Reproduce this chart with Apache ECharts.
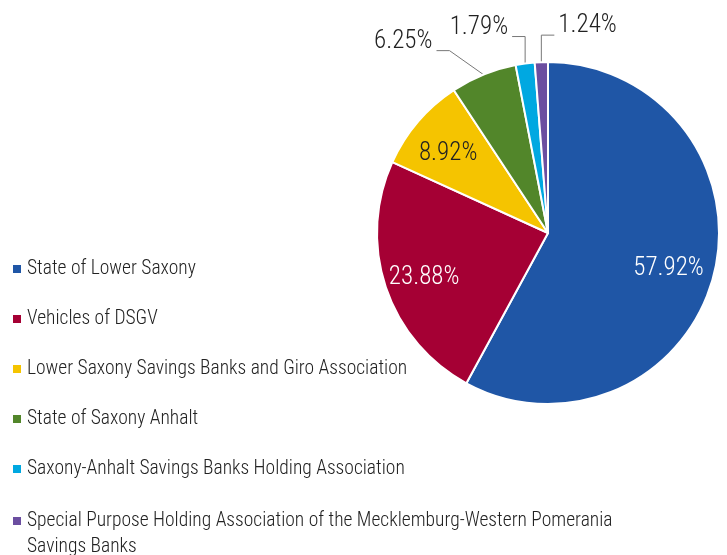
<!DOCTYPE html>
<html>
<head>
<meta charset="utf-8">
<script src="https://cdn.jsdelivr.net/npm/echarts@6/dist/echarts.min.js"></script>
<style>
  html, body { margin: 0; padding: 0; background: #fff; }
  #chart { width: 727px; height: 555px; }
</style>
</head>
<body>
<div id="chart"></div>
<script>
// shareholders, in pie order (clockwise from 12 o'clock)
const names = [
  'State of Lower Saxony',
  'Vehicles of DSGV',
  'Lower Saxony Savings Banks and Giro Association',
  'State of Saxony Anhalt',
  'Saxony-Anhalt Savings Banks Holding Association',
  'Special Purpose Holding Association of the Mecklemburg-Western Pomerania Savings Banks'
]
const shares = [57.92, 23.88, 8.92, 6.25, 1.79, 1.24]
const colors = ['#1f56a6', '#a50034', '#f5c400', '#52862a', '#00a8e1', '#6b4ea0']

const FONT = '"Roboto Condensed", "Open Sans", sans-serif'
const CX = 548
const CY = 233

let chart = echarts.init(document.getElementById('chart'))

let pieData = names.map(function (n, i) {
  let inside = shares[i] > 8
  return {
    name: n,
    value: shares[i],
    itemStyle: { color: colors[i] },
    label: {
      position: inside ? 'inside' : 'outside',
      color: (inside && i < 2) ? '#fff' : '#222'
    },
    labelLine: { show: !inside }
  }
})

function legendItem (n) {
  return { name: n, icon: 'rect' }
}

let legendText = { fontFamily: FONT, fontWeight: 300, fontSize: 19.5, color: '#222' }

let option = {
  animation: false,
  legend: [
    {
      orient: 'vertical',
      left: 6,
      top: 254,
      itemWidth: 10,
      itemHeight: 10,
      itemGap: 30,
      selectedMode: false,
      data: names.slice(0, 5).map(legendItem),
      textStyle: Object.assign({ lineHeight: 20 }, legendText)
    },
    {
      orient: 'vertical',
      left: 6,
      top: 477,
      itemWidth: 10,
      itemHeight: 10,
      selectedMode: false,
      data: names.slice(5).map(legendItem),
      formatter: function (n) {
        // wrap like the original; the empty first line keeps line one level with the swatch
        return '\n' + n.replace(' Savings Banks', '\nSavings Banks')
      },
      textStyle: Object.assign({ lineHeight: 26 }, legendText)
    }
  ],
  series: [{
    type: 'pie',
    center: [CX, CY],
    radius: 171,
    startAngle: 90,
    clockwise: true,
    silent: true,
    itemStyle: { borderColor: '#fff', borderWidth: 2 },
    label: {
      fontFamily: FONT,
      fontWeight: 300,
      fontSize: 25,
      formatter: function (p) { return p.value.toFixed(2) + '%' }
    },
    labelLine: { lineStyle: { color: '#777', width: 1 } },
    labelLayout: function (params) {
      let i = params.dataIndex
      let r = params.labelRect
      if (shares[i] > 8) {
        // push inside labels further out than the half radius
        let lx = r.x + r.width / 2
        let ly = r.y + r.height / 2
        return { dx: (lx - CX) * 0.44 - 3, dy: (ly - CY) * 0.44 + 4 }
      }
      let p0 = params.labelLinePoints[0]
      let p1, p2, side
      if (i === 3) {
        side = -1
        p1 = [p0[0] - 34, p0[1] - 24]
      } else {
        side = i === 5 ? 1 : -1
        p1 = [p0[0], p0[1] - 27]
      }
      p2 = [p1[0] + 13 * side, p1[1]]
      return {
        x: p2[0] + 4 * side,
        y: p2[1] - 9,
        align: side > 0 ? 'left' : 'right',
        verticalAlign: 'middle',
        labelLinePoints: [p0, p1, p2]
      }
    },
    data: pieData
  }]
}

chart.setOption(option)
</script>
</body>
</html>
